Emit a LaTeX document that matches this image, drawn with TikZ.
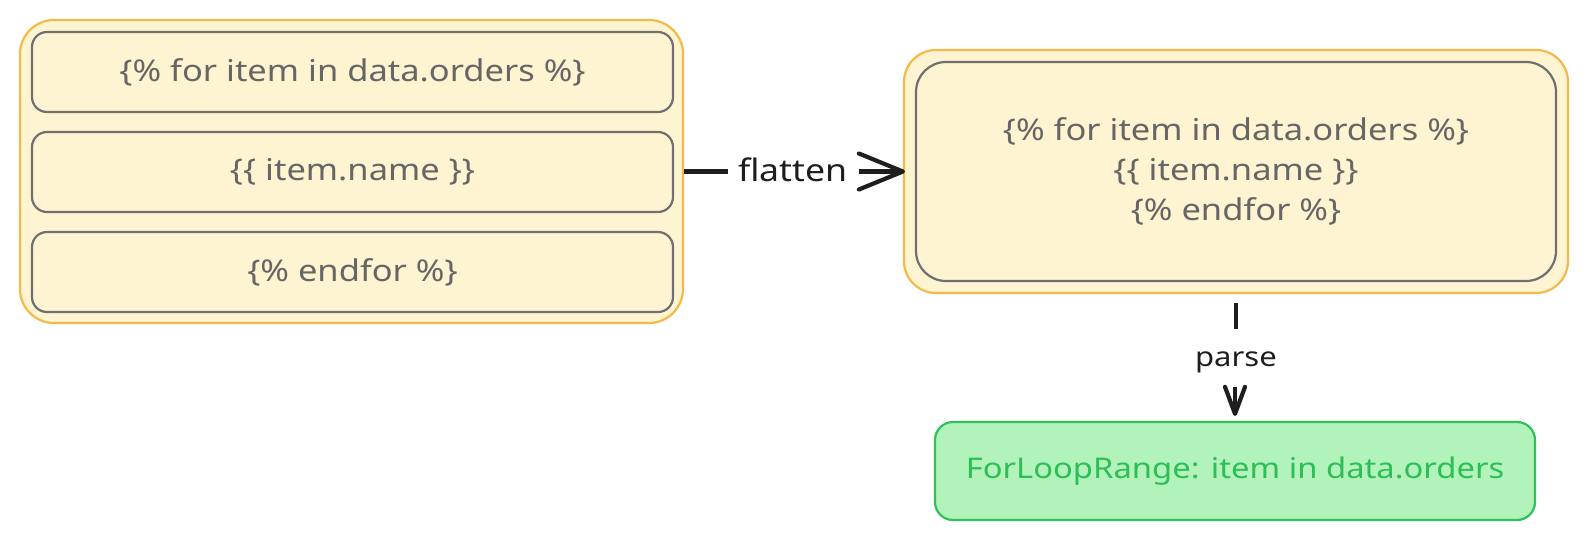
\documentclass[tikz,border=0pt]{standalone}
\usepackage{fontspec}
\setmainfont{Noto Sans}
\newfontfamily\widefont[FakeStretch=1.15]{Noto Sans}
\usetikzlibrary{arrows.meta}
\definecolor{orangestroke}{HTML}{F5B94A}
\definecolor{yellowfill}{HTML}{FFF4D1}
\definecolor{graystroke}{HTML}{707070}
\definecolor{graytext}{HTML}{666666}
\definecolor{greenfill}{HTML}{B2F2BB}
\definecolor{greenstroke}{HTML}{2FC15A}
\definecolor{greentext}{HTML}{2DBE55}
\definecolor{inkblack}{HTML}{1E1E1E}
\tikzset{
  outerbox/.style={draw=orangestroke, fill=yellowfill, line width=2.2pt, rounded corners=34pt, inner sep=0pt},
  innerbox/.style={draw=graystroke, fill=yellowfill, line width=2.2pt, rounded corners=15pt, inner sep=0pt, text=graytext, font=\widefont\fontsize{30}{40}\selectfont},
  greenbox/.style={draw=greenstroke, fill=greenfill, line width=2.2pt, rounded corners=18pt, inner sep=0pt, text=greentext, font=\widefont\fontsize{28.5}{34}\selectfont},
  flowarrow/.style={draw=inkblack, line width=4.2pt},
  arrowlabel/.style={fill=white, text=inkblack, font=\widefont\fontsize{31}{36}\selectfont, inner sep=0pt}
}
\begin{document}
\begin{tikzpicture}[x=1pt, y=-1pt]
\useasboundingbox (0,0) rectangle (1588,542);
% left group
\node[outerbox, minimum width=663pt, minimum height=303pt] (leftouter) at (351.5,171.5) {};
\node[innerbox, minimum width=641pt, minimum height=80pt] (forbox) at (352.5,72) {\{\% for item in data.orders \%\}};
\node[innerbox, minimum width=641pt, minimum height=80pt] (namebox) at (352.5,172) {\{\{ item.name \}\}};
\node[innerbox, minimum width=641pt, minimum height=80pt] (endbox) at (352.5,272) {\{\% endfor \%\}};
% right group
\node[outerbox, rounded corners=32pt, minimum width=664pt, minimum height=243pt] (rightouter) at (1236,171.5) {};
\node[innerbox, rounded corners=30pt, minimum width=640pt, minimum height=219pt, align=center] (flatbox) at (1236,171.5)
  {\{\% for item in data.orders \%\}\\\{\{ item.name \}\}\\\{\% endfor \%\}};
% result
\node[greenbox, minimum width=600pt, minimum height=98pt] (rangebox) at (1235,471) {ForLoopRange: item in data.orders};
% flatten connector
\coordinate (flatstart) at (leftouter.east);
\coordinate (flatend) at (rightouter.west);
\node[arrowlabel] (flatlabel) at (793,170) {flatten};
\draw[flowarrow] (flatstart) -- ([xshift=-10pt]flatlabel.west |- flatstart);
\draw[flowarrow, line cap=round, line join=round] ([xshift=-44pt,yshift=-18pt]flatend) -- (flatend) -- ([xshift=-44pt,yshift=18pt]flatend);
\draw[flowarrow] ([xshift=-44pt]flatend) -- (flatend);
% parse connector
\coordinate (parsestart) at ([yshift=-9pt]rightouter.south);
\coordinate (parseend) at ([yshift=7pt]rangebox.north);
\node[arrowlabel, font=\widefont\fontsize{27}{32}\selectfont] (parselabel) at (1236,362) {parse};
\draw[flowarrow] (parsestart) -- ++(0,26);
\draw[flowarrow, line cap=round, line join=round] ([xshift=-10pt,yshift=27pt]parseend) -- (parseend) -- ([xshift=10pt,yshift=27pt]parseend);
\draw[flowarrow] ([yshift=27pt]parseend) -- (parseend);
\end{tikzpicture}
\end{document}
